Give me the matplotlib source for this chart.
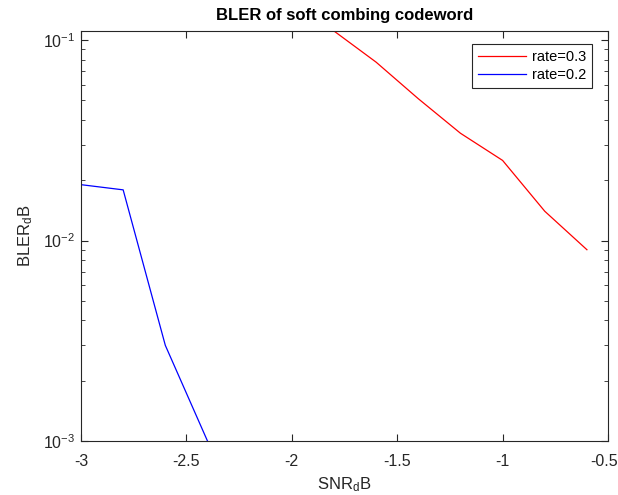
import matplotlib
matplotlib.use('Agg')
import matplotlib.pyplot as plt
import matplotlib.transforms as mtransforms
from matplotlib.ticker import LogLocator, NullFormatter

# data
snr_r03 = [-1.8, -1.6, -1.4, -1.2, -1.0, -0.8, -0.6]
bler_r03 = [0.111, 0.0776, 0.051, 0.0343, 0.0251, 0.0140, 0.0090]
snr_r02 = [-3.0, -2.8, -2.6, -2.4]
bler_r02 = [0.0190, 0.0179, 0.0030, 0.0010]

plt.rcParams['font.family'] = ['Liberation Sans', 'DejaVu Sans']
plt.rcParams['mathtext.fontset'] = 'custom'
plt.rcParams['mathtext.rm'] = 'Liberation Sans'

axcol = (0.15, 0.15, 0.15)

fig = plt.figure(figsize=(6.18, 4.95), dpi=100)
ax = fig.add_axes([81 / 618, 1 - 441 / 495, 527 / 618, 410 / 495])

ax.semilogy(snr_r03, bler_r03, color='#ff0000', lw=0.9, label='rate=0.3')
ax.semilogy(snr_r02, bler_r02, color='#0000ff', lw=0.9, label='rate=0.2')

ax.set_xlim(-3, -0.5)
ax.set_ylim(1e-3, 0.111)
ax.set_xticks([-3, -2.5, -2, -1.5, -1, -0.5])
ax.set_xticklabels(['-3', '-2.5', '-2', '-1.5', '-1', '-0.5'])
ax.yaxis.set_major_locator(LogLocator(base=10, numticks=10))
ax.yaxis.set_minor_locator(LogLocator(base=10, subs=range(2, 10), numticks=10))
ax.yaxis.set_minor_formatter(NullFormatter())

ax.tick_params(which='both', direction='in', top=True, right=True,
               colors=axcol, labelsize=11.5)
ax.tick_params(axis='x', pad=9)
ax.tick_params(axis='y', pad=4)
ax.tick_params(which='major', length=5, width=0.8)
ax.tick_params(which='minor', length=3, width=0.6)
for s in ax.spines.values():
    s.set_color(axcol)
    s.set_linewidth(0.8)

# last x label is nudged left so it stays inside the figure
last = ax.get_xticklabels()[-1]
last.set_transform(last.get_transform() +
                   mtransforms.ScaledTranslation(-4 / 100, 0, fig.dpi_scale_trans))

ax.set_title('BLER of soft combing codeword', fontsize=12, fontweight='bold', pad=8)
ax.set_xlabel(r'SNR$\mathregular{_d}$B', fontsize=12, color=axcol, labelpad=5)
ax.set_ylabel(r'BLER$\mathregular{_d}$B', fontsize=12, color=axcol, labelpad=6)

leg = ax.legend(loc='upper right', bbox_to_anchor=(0.970, 0.968), borderaxespad=0,
                fontsize=10.5, fancybox=False, framealpha=1, edgecolor=axcol,
                handlelength=3.3, handletextpad=0.4, borderpad=0.4, labelspacing=0.3)
leg.get_frame().set_linewidth(0.8)

fig.savefig('out.png', dpi=100)
